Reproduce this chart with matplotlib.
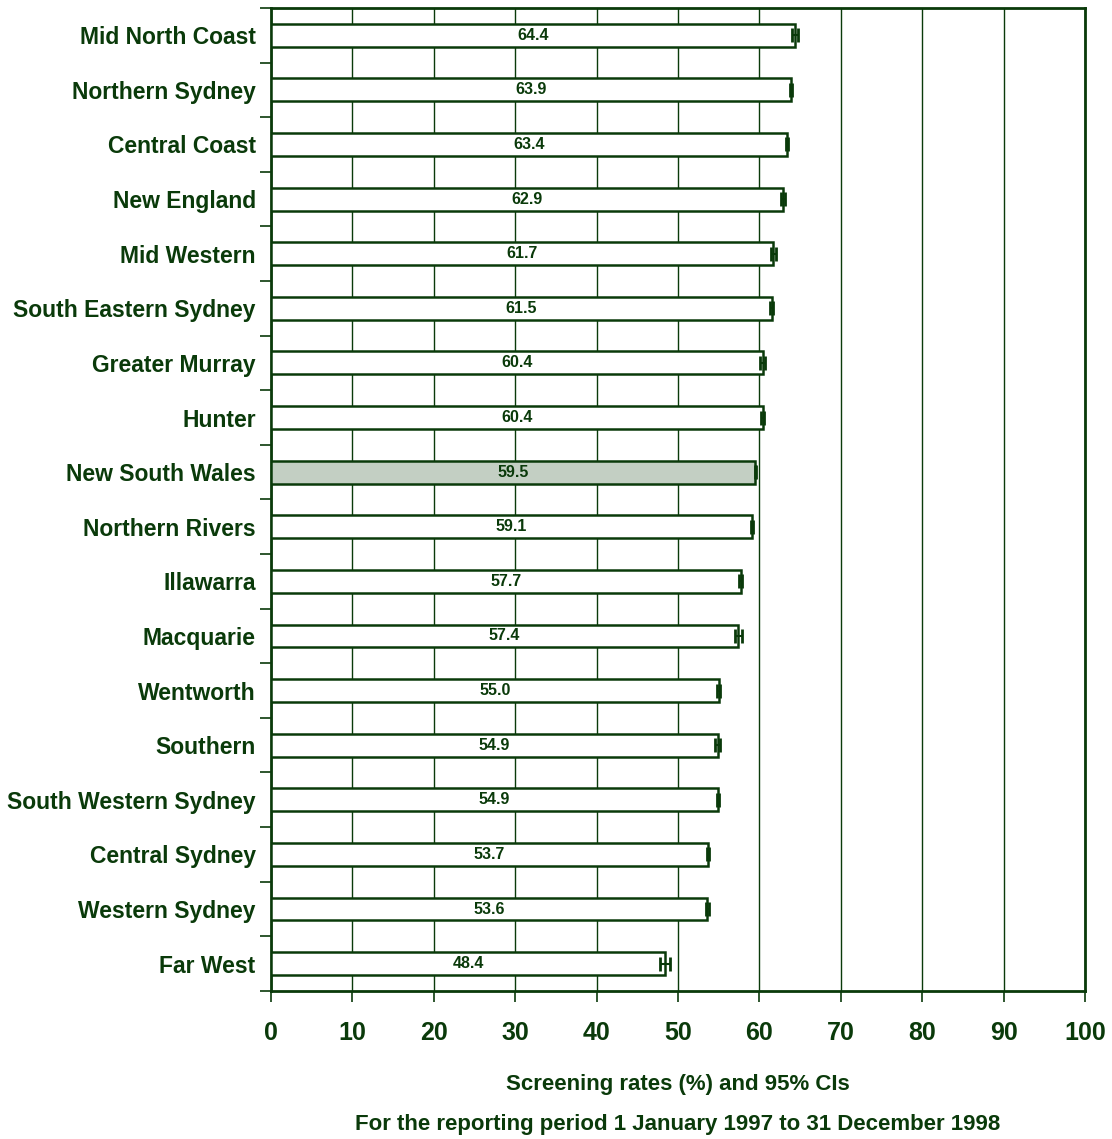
import numpy as np
import matplotlib
matplotlib.use('Agg')
import matplotlib.pyplot as plt

# screening rates by area, top to bottom as drawn
areas = ['Mid North Coast', 'Northern Sydney', 'Central Coast', 'New England',
         'Mid Western', 'South Eastern Sydney', 'Greater Murray', 'Hunter',
         'New South Wales', 'Northern Rivers', 'Illawarra', 'Macquarie',
         'Wentworth', 'Southern', 'South Western Sydney', 'Central Sydney',
         'Western Sydney', 'Far West']
rates = [64.4, 63.9, 63.4, 62.9, 61.7, 61.5, 60.4, 60.4, 59.5, 59.1,
         57.7, 57.4, 55.0, 54.9, 54.9, 53.7, 53.6, 48.4]
ci_half = [0.35, 0.15, 0.15, 0.3, 0.3, 0.15, 0.3, 0.15, 0.05, 0.15,
           0.2, 0.45, 0.2, 0.3, 0.1, 0.1, 0.15, 0.6]
xticks = list(range(0, 101, 10))

green = '#0a3a0a'
plt.rcParams['font.family'] = ['Liberation Sans', 'DejaVu Sans']
plt.rcParams['font.weight'] = 'bold'

fig = plt.figure(figsize=(11.12, 11.39), dpi=100)
ax = fig.add_axes([0.2437, 0.130, 0.732, 0.863])

n = len(areas)
ypos = np.arange(n)
colors = ['#c3cfc3' if a == 'New South Wales' else 'white' for a in areas]
ax.barh(ypos, rates, height=0.42, color=colors, edgecolor=green, linewidth=1.8, zorder=3)
ax.errorbar(rates, ypos, xerr=ci_half, fmt='none', ecolor=green, elinewidth=1.5,
            capsize=5, capthick=2, zorder=4)

for y, r in zip(ypos, rates):
    ax.text(r / 2, y, '%.1f' % r, ha='center', va='center', fontsize=11.5,
            fontweight='bold', color=green, zorder=5)

ax.set_xlim(0, 100)
ax.set_ylim(n - 0.5, -0.5)
ax.set_xticks(xticks)
ax.set_xticklabels([str(t) for t in xticks], fontsize=18, fontweight='bold', color=green)
ax.tick_params(axis='x', direction='out', length=8, width=1.2, color=green, pad=14)

ax.set_yticks(ypos)
ax.set_yticklabels(areas, fontsize=16.5, fontweight='bold', color=green)
ax.tick_params(axis='y', which='major', length=0, pad=11)
ax.set_yticks(np.arange(-0.5, n, 1), minor=True)
ax.tick_params(axis='y', which='minor', direction='out', length=8, width=1.2, color=green)

ax.grid(axis='x', color=green, linewidth=1.0, zorder=0)
ax.set_axisbelow(True)
for s in ax.spines.values():
    s.set_color(green)
    s.set_linewidth(2)

fig.text(0.6095, 0.048, 'Screening rates (%) and 95% CIs', ha='center', va='center',
         fontsize=16, fontweight='bold', color=green)
fig.text(0.6095, 0.013, 'For the reporting period 1 January 1997 to 31 December 1998',
         ha='center', va='center', fontsize=16, fontweight='bold', color=green)

fig.savefig('out.png', dpi=100)
